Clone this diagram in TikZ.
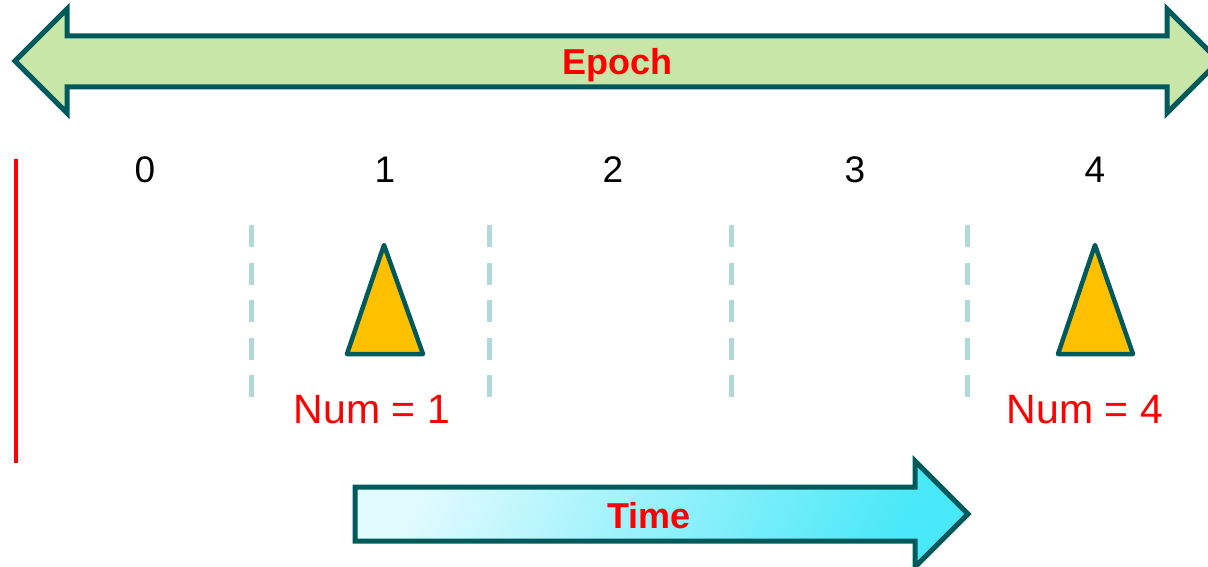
\documentclass[tikz,border=0pt]{standalone}
\usepackage{fontspec}
\setmainfont{Liberation Sans}
\definecolor{edge}{RGB}{0,90,92}
\definecolor{epochfill}{RGB}{200,230,167}
\definecolor{tri}{RGB}{255,192,0}
\definecolor{dashc}{RGB}{178,216,218}
\definecolor{timeL}{RGB}{225,250,254}
\definecolor{timeD}{RGB}{72,232,248}
\definecolor{txtred}{RGB}{255,0,0}
\begin{document}
\begin{tikzpicture}[x=1pt,y=-1pt,
  bigarrow/.style={draw=edge,line width=5pt,line join=miter},
  tribox/.style={draw=edge,fill=tri,line width=4.5pt,line join=round},
  sep/.style={draw=dashc,line width=5pt,dash pattern=on 22pt off 15.5pt},
  digit/.style={font=\fontsize{37}{40}\selectfont,text=black,inner sep=0pt},
  numlbl/.style={font=\fontsize{41}{44}\selectfont,text=txtred,inner sep=0pt},
  title/.style={font=\fontsize{36}{40}\selectfont\bfseries,text=txtred,inner sep=0pt,anchor=base}]
\useasboundingbox (0,0) rectangle (1208,567);
% Epoch double arrow
\path[bigarrow,fill=epochfill] (15,61) -- (67,9) -- (67,36) -- (1167,36) -- (1167,9)
  -- (1219,61) -- (1167,113) -- (1167,87) -- (67,87) -- (67,113) -- cycle;
\node[title] (epoch) at (617,75) {Epoch};
% red marker line
\coordinate (rtop) at (16,159);
\coordinate (rbot) at (16,463);
\draw[txtred,line width=4pt] (rtop) -- (rbot);
% epoch numbers
\node[digit] (n0) at (145,170) {0};
\node[digit] (n1) at (385,170) {1};
\node[digit] (n2) at (613,170) {2};
\node[digit] (n3) at (855,170) {3};
\node[digit] (n4) at (1095,170) {4};
% dashed separators
\foreach \x/\n in {251/a,489/b,731/c,967/d}{
  \coordinate (s\n t) at (\x,225);
  \coordinate (s\n b) at (\x,397);
  \draw[sep] (s\n t) -- (s\n b);
}
% triangles
\path[tribox] (384,245) -- (423,354) -- (347,354) -- cycle;
\path[tribox] (1095,245) -- (1133,354) -- (1058,354) -- cycle;
\node[numlbl] (num1) at (372,410) {Num = 1};
\node[numlbl] (num4) at (1085,410) {Num = 4};
% Time arrow
\path[bigarrow,top color=timeL,bottom color=timeD,shading angle=65]
  (355,487) -- (915,487) -- (915,461) -- (968,514) -- (915,567) -- (915,541) -- (355,541) -- cycle;
\node[title] (time) at (649,528) {Time};
\end{tikzpicture}
\end{document}
